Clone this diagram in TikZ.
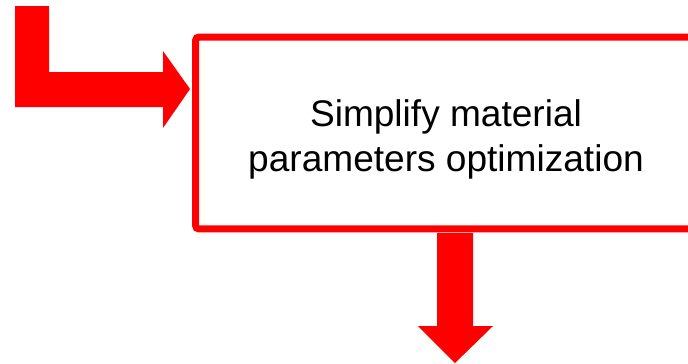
\documentclass[tikz,border=0pt]{standalone}
\usepackage{fontspec}
\setmainfont{Liberation Sans}
\usetikzlibrary{positioning}
\tikzset{fatarrow/.style={fill=red, draw=none},
	stepbox/.style={draw=red, line width=0.14cm, rounded corners=2pt, minimum width=10.02cm, minimum height=3.84cm},
	steptext/.style={align=center, font=\fontsize{21.1}{25.6}\selectfont}}

\begin{document}
\begin{tikzpicture}[x=0.02cm, y=-0.02cm]
\clip (0,0) rectangle (688,363);
\node[stepbox] (S) at (446,133) {};
\node[steptext] (T) at (446,139) {Simplify material\\parameters optimization};

% incoming bent arrow
\path[fatarrow] (15,6) -- (49,6) -- (49,72) -- (163,72) -- (163,51) -- (190,89) -- (163,128) -- (163,107) -- (15,107) -- cycle;
% outgoing arrow
\path[fatarrow] (437,233) -- (473,233) -- (473,326) -- (493,326) -- (455,363) -- (418,326) -- (437,326) -- cycle;
\end{tikzpicture}
\end{document}
